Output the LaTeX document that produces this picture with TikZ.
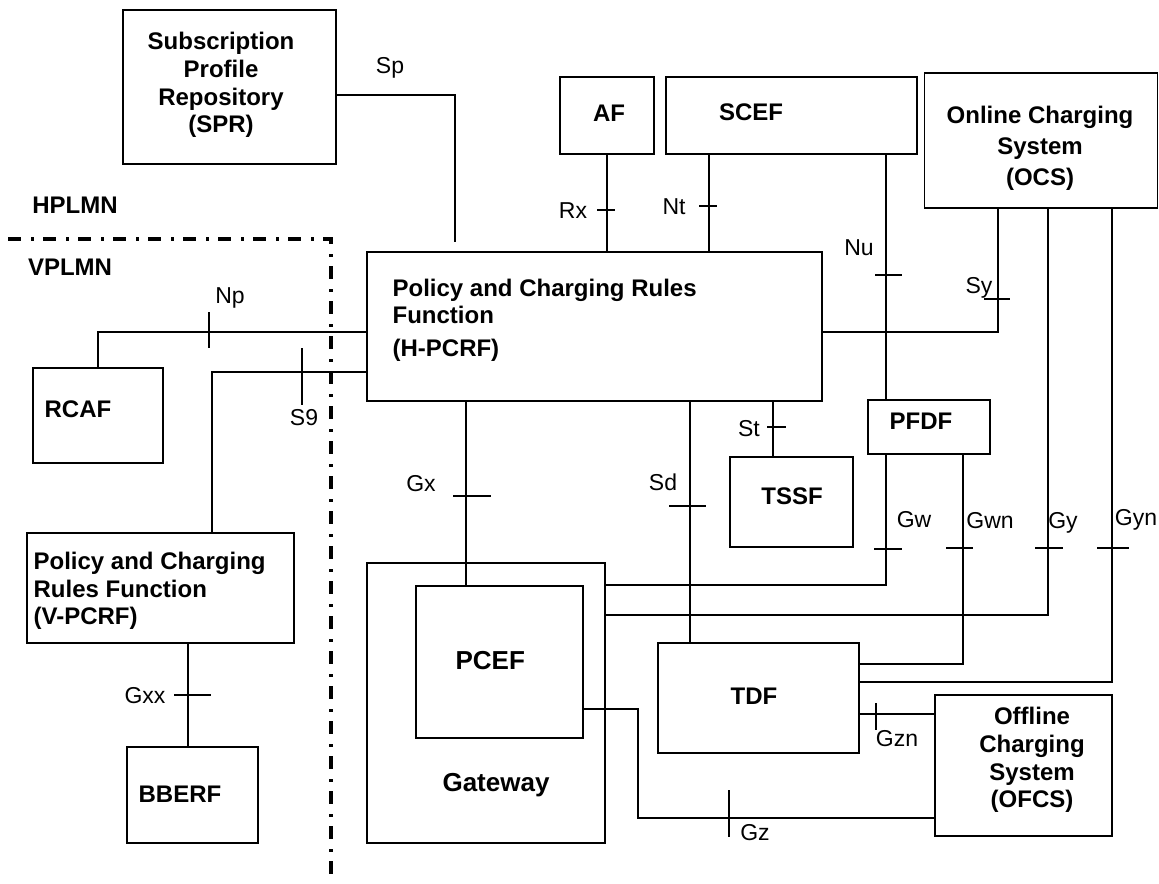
\documentclass[tikz,border=0pt]{standalone}
\usepackage{fontspec}
\setmainfont{Liberation Sans}
\tikzset{
  nebox/.style={draw, rectangle, inner sep=0pt},
  nename/.style={inner sep=0pt, font=\fontsize{12}{13.8}\selectfont\bfseries},
  ifname/.style={inner sep=0pt, text height=8.2pt, text depth=0pt, font=\fontsize{11.5}{13.8}\selectfont},
  plmnline/.style={line width=1.6pt, dash pattern=on 6.5pt off 5pt on 1.5pt off 4.5pt}
}
\begin{document}
\begin{tikzpicture}[x=0.5pt, y=-0.5pt, line width=0.6pt]
\useasboundingbox (0,0) rectangle (1159,883);

% network elements
\node[nebox, minimum width=106.5pt, minimum height=77pt] (spr) at (229.5,87) {};
\node[nebox, minimum width=47pt, minimum height=38.5pt] (af) at (607,115.5) {};
\node[nebox, minimum width=125.5pt, minimum height=38.5pt] (scef) at (791.5,115.5) {};
\node[nebox, minimum width=116.5pt, minimum height=67.5pt] (ocs) at (1041,140.5) {};
\node[nebox, minimum width=227.5pt, minimum height=74.5pt] (pcrf) at (594.5,326.5) {};
\node[nebox, minimum width=65pt, minimum height=47.5pt] (rcaf) at (98,415.5) {};
\node[nebox, minimum width=133.5pt, minimum height=55pt] (vpcrf) at (160.5,588) {};
\node[nebox, minimum width=65.5pt, minimum height=48pt] (bberf) at (192.5,795) {};
\node[nebox, minimum width=119pt, minimum height=140pt] (gateway) at (486,703) {};
\node[nebox, minimum width=83.5pt, minimum height=76pt] (pcef) at (499.5,662) {};
\node[nebox, minimum width=61.5pt, minimum height=45pt] (tssf) at (791.5,502) {};
\node[nebox, minimum width=61pt, minimum height=27pt] (pfdf) at (929,427) {};
\node[nebox, minimum width=100.5pt, minimum height=55pt] (tdf) at (758.5,698) {};
\node[nebox, minimum width=88.5pt, minimum height=70.5pt] (ofcs) at (1023.5,765.5) {};

% element names
\node[nename, align=center] (sprtext) at (221,85) {Subscription\\Profile\\Repository\\(SPR)};
\node[nename, text height=8.6pt, text depth=0pt] (aftext) at (609,113) {AF};
\node[nename, text height=8.6pt, text depth=0pt] (sceftext) at (751,112) {SCEF};
\node[nename, align=center, font=\fontsize{12}{15.5}\selectfont\bfseries] (ocstext) at (1040,148) {Online Charging\\System\\(OCS)};
\node[nename, align=left, anchor=west] (pcrftext) at (392,320) {Policy and Charging Rules\\Function\\[2.5pt](H-PCRF)};
\node[nename, anchor=west, text height=8.6pt, text depth=0pt] (rcaftext) at (44,409) {RCAF};
\node[nename, align=left, anchor=west] (vpcrftext) at (33,591) {Policy and Charging\\Rules Function\\(V-PCRF)};
\node[nename, anchor=west, text height=8.6pt, text depth=0pt] (bberftext) at (138,794) {BBERF};
\node[nename, font=\fontsize{13}{14}\selectfont\bfseries, text height=9.3pt, text depth=0pt] (gatewaytext) at (496,782) {Gateway};
\node[nename, font=\fontsize{13}{14}\selectfont\bfseries, anchor=west, text height=9.3pt, text depth=0pt] (peceftext) at (455,660) {PCEF};
\node[nename, text height=8.6pt, text depth=0pt] (tssftext) at (792,496) {TSSF};
\node[nename, anchor=west, text height=8.6pt, text depth=0pt] (pfdftext) at (889,421) {PFDF};
\node[nename, anchor=west, text height=8.6pt, text depth=0pt] (tdftext) at (730,696) {TDF};
\node[nename, align=center] (ofcstext) at (1032,760) {Offline\\Charging\\System\\(OFCS)};
\node[nename, text height=8.6pt, text depth=0pt] (hplmn) at (75,205) {HPLMN};
\node[nename, text height=8.6pt, text depth=0pt] (vplmn) at (70,267) {VPLMN};

% HPLMN / VPLMN border
\draw[plmnline] (8,239) -- (331,239) -- (331,877);

% bends and straight runs of the reference points
\coordinate (spc) at (455,95);
\coordinate (spe) at (455,242);
\coordinate (ntline) at (709,0);
\coordinate (nuline) at (886,0);
\coordinate (syc) at (998,332);
\coordinate (npc) at (98,332);
\coordinate (s9c) at (212,372);
\coordinate (gxxline) at (188,0);
\coordinate (gxline) at (466,0);
\coordinate (sdline) at (690,0);
\coordinate (stline) at (773,0);
\coordinate (gwc) at (886,585);
\coordinate (gwnc) at (963,664);
\coordinate (gyc) at (1048,615);
\coordinate (gync) at (1112,682);
\coordinate (gznline) at (0,714);
\coordinate (gzc1) at (638,709);
\coordinate (gzc2) at (638,818);

% reference points
\draw (spr.east |- spc) -- (spc) -- (spe);
\draw (af.south) -- (af.south |- pcrf.north);
\draw (scef.south -| ntline) -- (pcrf.north -| ntline);
\draw (scef.south -| nuline) -- (pfdf.north -| nuline);
\draw (pcrf.east |- syc) -- (syc) -- (syc |- ocs.south);
\draw (pcrf.west |- npc) -- (npc) -- (rcaf.north);
\draw (pcrf.west |- s9c) -- (s9c) -- (s9c |- vpcrf.north);
\draw (vpcrf.south -| gxxline) -- (bberf.north -| gxxline);
\draw (pcrf.south -| gxline) -- (pcef.north -| gxline);
\draw (pcrf.south -| sdline) -- (tdf.north -| sdline);
\draw (pcrf.south -| stline) -- (tssf.north -| stline);
\draw (pfdf.south -| gwc) -- (gwc) -- (gateway.east |- gwc);
\draw (pfdf.south -| gwnc) -- (gwnc) -- (tdf.east |- gwnc);
\draw (ocs.south -| gyc) -- (gyc) -- (gateway.east |- gyc);
\draw (ocs.south -| gync) -- (gync) -- (tdf.east |- gync);
\draw (tdf.east |- gznline) -- (ofcs.west |- gznline);
\draw (pcef.east |- gzc1) -- (gzc1) -- (gzc2) -- (ofcs.west |- gzc2);

% interface marks
\foreach \ty/\ta/\tb in {210/597/615, 206/699/717, 275/875/902, 299/984/1010,
  695/174/211, 496/453/491, 506/669/706, 427/767/786,
  549/874/902, 548/946/973, 548/1035/1063, 548/1097/1129}
  \draw (\ta,\ty) -- (\tb,\ty);
\foreach \tx/\ta/\tb in {209/312/348, 302/348/405, 876/703/730, 729/790/837}
  \draw (\tx,\ta) -- (\tx,\tb);

% interface names
\foreach \n/\t/\px/\py in {sp/Sp/390/65, rx/Rx/573/210, nt/Nt/674/206, nu/Nu/859/247,
  sy/Sy/979/285, np/Np/230/295, s9/S9/304/417, gxx/Gxx/145/695, gx/Gx/421/483,
  sd/Sd/663/482, st/St/749/428, gw/Gw/914/519, gwn/Gwn/990/520, gy/Gy/1063/520,
  gyn/Gyn/1136/517, gzn/Gzn/897/738, gz/Gz/755/832}
  \node[ifname] (\n) at (\px,\py) {\t};
\end{tikzpicture}
\end{document}
